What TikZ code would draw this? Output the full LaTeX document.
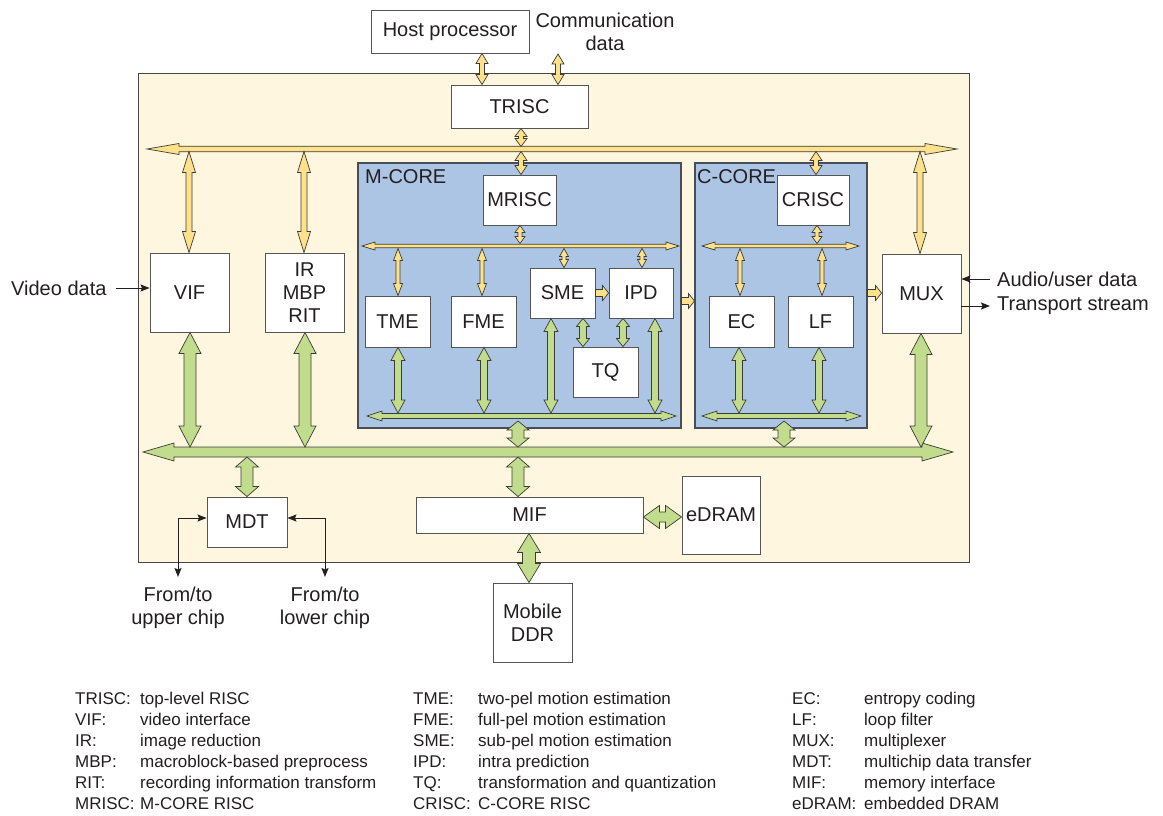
\documentclass[tikz,border=0pt]{standalone}
\usepackage{fontspec}
\setmainfont{Liberation Sans}
\usetikzlibrary{calc,arrows.meta}
\definecolor{cream}{RGB}{254,246,222}
\definecolor{coreblue}{RGB}{173,197,229}
\definecolor{yel}{RGB}{255,225,140}
\definecolor{grn}{RGB}{192,220,140}
\definecolor{txt}{RGB}{35,31,32}
\definecolor{boxc}{RGB}{85,85,85}
\definecolor{corec}{RGB}{70,78,92}
\definecolor{arrc}{RGB}{60,60,55}
\definecolor{chipc}{RGB}{70,70,70}
% double-headed fat arrow: [style]{A}{B}{shaft half}{head half}{head length}
\newcommand\biarrow[6][]{%
 \draw[#1] (#2) -- ($(#2)!#6!(#3)!#5!90:(#3)$) -- ($(#2)!#6!(#3)!#4!90:(#3)$)
  -- ($(#3)!#6!(#2)!#4!-90:(#2)$) -- ($(#3)!#6!(#2)!#5!-90:(#2)$) -- (#3)
  -- ($(#3)!#6!(#2)!#5!90:(#2)$) -- ($(#3)!#6!(#2)!#4!90:(#2)$)
  -- ($(#2)!#6!(#3)!#4!-90:(#3)$) -- ($(#2)!#6!(#3)!#5!-90:(#3)$) -- cycle;}
% single-headed fat arrow from A to B
\newcommand\uniarrow[6][]{%
 \draw[#1] ($(#2)!#4!90:(#3)$) -- ($(#3)!#6!(#2)!#4!-90:(#2)$) -- ($(#3)!#6!(#2)!#5!-90:(#2)$)
  -- (#3) -- ($(#3)!#6!(#2)!#5!90:(#2)$) -- ($(#3)!#6!(#2)!#4!90:(#2)$)
  -- ($(#2)!#4!-90:(#3)$) -- cycle;}
% vertical link at x between two anchors
\newcommand\vlink[7][]{%
 \coordinate (vlX) at (#4,0);
 \coordinate (vlA) at (vlX |- #2);
 \coordinate (vlB) at (vlX |- #3);
 \biarrow[#1]{vlA}{vlB}{#5}{#6}{#7}}
\begin{document}
\begin{tikzpicture}[x=1pt,y=-1pt,
 >={Stealth[length=9pt,width=7pt,inset=1.5pt]},
 box/.style={draw=boxc, fill=white, line width=0.9pt, inner sep=0pt, align=center, text=txt, font=\fontsize{20}{23}\selectfont},
 lbl/.style={inner sep=0pt, text=txt, font=\fontsize{20}{23}\selectfont},
 leg/.style={inner sep=0pt, anchor=base west, text=txt, font=\fontsize{17}{21}\selectfont},
 core/.style={draw=corec, fill=coreblue, line width=1.1pt, inner sep=0pt},
 ya/.style={draw=arrc, fill=yel, line width=0.7pt},
 ga/.style={draw=arrc, fill=grn, line width=0.7pt},
 sig/.style={draw=txt, line width=1pt}]
\fill[white] (0,0) rectangle (1163,816);
\useasboundingbox (0,0) rectangle (1163,816);

% containers
\node[draw=chipc, fill=cream, line width=1pt, minimum width=831pt, minimum height=488pt, inner sep=0pt] (chip) at (553.5,318) {};
\node[core, minimum width=323pt, minimum height=265pt] (mcore) at (519.5,295.5) {};
\node[core, minimum width=172pt, minimum height=265pt] (ccore) at (781,295.5) {};
\node[lbl, anchor=west] (mlabel) at (365,176.5) {M-CORE};
\node[lbl, anchor=west] (clabel) at (697,176.5) {C-CORE};

% blocks
\node[box, minimum width=158pt, minimum height=43pt] (host) at (450,31.5) {Host processor};
\node[lbl, align=center] (comm) at (605,31.5) {Communication\\data};
\node[box, minimum width=137pt, minimum height=43pt] (trisc) at (519.5,106.5) {TRISC};
\node[box, minimum width=73pt, minimum height=50pt] (mrisc) at (519.5,200) {MRISC};
\node[box, minimum width=72pt, minimum height=50pt] (crisc) at (813,200) {CRISC};
\node[box, minimum width=65pt, minimum height=51pt] (tme) at (397.5,321.5) {TME};
\node[box, minimum width=65pt, minimum height=51pt] (fme) at (483.5,321.5) {FME};
\node[box, minimum width=65pt, minimum height=50pt] (sme) at (562.5,293) {SME};
\node[box, minimum width=64pt, minimum height=50pt] (ipd) at (641,293) {IPD};
\node[box, minimum width=65pt, minimum height=50pt] (tq) at (605.5,372) {TQ};
\node[box, minimum width=65pt, minimum height=51pt] (ec) at (741.5,321.5) {EC};
\node[box, minimum width=65pt, minimum height=51pt] (lf) at (820.5,321.5) {LF};
\node[box, minimum width=79pt, minimum height=79pt] (mux) at (921.5,293.5) {MUX};
\node[box, minimum width=79pt, minimum height=79pt] (vif) at (189.5,292.5) {VIF};
\node[box, minimum width=79pt, minimum height=79pt] (ir) at (304.5,292.5) {IR\\MBP\\RIT};
\node[box, minimum width=80pt, minimum height=50pt] (mdt) at (247,522) {MDT};
\node[box, minimum width=227pt, minimum height=36pt] (mif) at (529.5,515) {MIF};
\node[box, minimum width=78pt, minimum height=78pt] (edram) at (721,515) {eDRAM};
\node[box, minimum width=79pt, minimum height=79pt] (ddr) at (532.5,622.5) {Mobile\\DDR};

% external labels
\node[lbl, anchor=west] (vd) at (11,288) {Video data};
\node[lbl, anchor=west] (aud) at (997,279) {Audio/user data};
\node[lbl, anchor=west] (ts) at (997,306) {Transport stream};
\node[lbl, align=center, anchor=north] (up) at (178,587) {From/to\\upper chip};
\node[lbl, align=center, anchor=north] (low) at (325,587) {From/to\\lower chip};

% bus coordinates
\coordinate (tbL) at (147,149); \coordinate (tbR) at (957,149);
\coordinate (tbT) at (0,146.5); \coordinate (tbB) at (0,151.5);
\coordinate (mbL) at (362,246); \coordinate (mbR) at (679,246);
\coordinate (cbL) at (702,246); \coordinate (cbR) at (859,246);
\coordinate (mbT) at (0,243.5); \coordinate (mbB) at (0,248.5);
\coordinate (mgL) at (367,416); \coordinate (mgR) at (676,416);
\coordinate (cgL) at (702,416); \coordinate (cgR) at (861,416);
\coordinate (mgT) at (0,413); \coordinate (mgX) at (0,421);
\coordinate (gbL) at (143,452); \coordinate (gbR) at (953,452);
\coordinate (gbT) at (0,447); \coordinate (gbB) at (0,457);
\coordinate (commEnd) at (558,54);

% buses
\biarrow[ya]{tbL}{tbR}{2.8pt}{5.5pt}{32pt}
\biarrow[ya]{mbL}{mbR}{1.8pt}{4pt}{13pt}
\biarrow[ya]{cbL}{cbR}{1.8pt}{4pt}{13pt}
\biarrow[ga]{mgL}{mgR}{2.5pt}{5pt}{15pt}
\biarrow[ga]{cgL}{cgR}{2.5pt}{5pt}{15pt}
\biarrow[ga]{gbL}{gbR}{5pt}{9pt}{31pt}

% small yellow links
\vlink[ya]{host.south}{trisc.north}{482}{2.5pt}{6pt}{10pt}
\vlink[ya]{commEnd}{trisc.north}{558}{2.5pt}{6pt}{10pt}
\vlink[ya]{trisc.south}{tbT}{521}{2.5pt}{6pt}{8pt}
\vlink[ya]{tbB}{mrisc.north}{521}{2.5pt}{6pt}{9pt}
\vlink[ya]{tbB}{crisc.north}{816}{2.5pt}{6pt}{9pt}
% thick yellow links
\vlink[ya]{tbB}{vif.north}{189}{3pt}{6.5pt}{21pt}
\vlink[ya]{tbB}{ir.north}{304}{3pt}{6.5pt}{21pt}
\vlink[ya]{tbB}{mux.north}{920}{3pt}{6.5pt}{21pt}
% core yellow links
\vlink[ya]{mrisc.south}{mbT}{520}{2pt}{5pt}{7pt}
\vlink[ya]{mbB}{tme.north}{398}{2pt}{4.5pt}{12pt}
\vlink[ya]{mbB}{fme.north}{482}{2pt}{4.5pt}{12pt}
\vlink[ya]{mbB}{sme.north}{564}{2pt}{4.5pt}{8pt}
\vlink[ya]{mbB}{ipd.north}{642}{2pt}{4.5pt}{8pt}
\vlink[ya]{crisc.south}{mbT}{817}{2pt}{5pt}{7pt}
\vlink[ya]{mbB}{ec.north}{740}{2pt}{4.5pt}{12pt}
\vlink[ya]{mbB}{lf.north}{822}{2pt}{4.5pt}{12pt}
% single yellow arrows
\uniarrow[ya]{sme.east}{ipd.west}{3.5pt}{7.5pt}{6pt}
\coordinate (q1) at ([yshift=-5.5pt]mcore.east);
\coordinate (q2) at (q1 -| ccore.west);
\uniarrow[ya]{q1}{q2}{3.5pt}{7.5pt}{6pt}
\coordinate (q3) at ([yshift=2.5pt]ccore.east);
\coordinate (q4) at (q3 -| mux.west);
\uniarrow[ya]{q3}{q4}{3.5pt}{7.5pt}{6pt}

% core green links
\vlink[ga]{tme.south}{mgT}{398}{3.5pt}{7pt}{13pt}
\vlink[ga]{fme.south}{mgT}{484}{3.5pt}{7pt}{13pt}
\vlink[ga]{sme.south}{mgT}{551}{3.5pt}{7pt}{13pt}
\vlink[ga]{ipd.south}{mgT}{655}{3.5pt}{7pt}{13pt}
\vlink[ga]{sme.south}{tq.north}{583}{3.5pt}{6.5pt}{8pt}
\vlink[ga]{ipd.south}{tq.north}{623}{3.5pt}{6.5pt}{8pt}
\vlink[ga]{ec.south}{mgT}{739}{3.5pt}{7pt}{13pt}
\vlink[ga]{lf.south}{mgT}{819}{3.5pt}{7pt}{13pt}
% core to main bus
\vlink[ga]{mgX}{gbT}{518}{6pt}{11pt}{9pt}
\vlink[ga]{mgX}{gbT}{784}{6pt}{11pt}{9pt}
% big green links
\vlink[ga]{vif.south}{gbT}{190}{6pt}{11pt}{21pt}
\vlink[ga]{ir.south}{gbT}{305}{6pt}{11pt}{21pt}
\vlink[ga]{mux.south}{gbT}{921}{6pt}{11pt}{21pt}
\vlink[ga]{gbB}{mdt.north}{247}{6pt}{11.5pt}{10pt}
\vlink[ga]{gbB}{mif.north}{518}{6pt}{11.5pt}{10pt}
\vlink[ga]{mif.south}{ddr.north}{529}{6.5pt}{11.5pt}{19pt}
\coordinate (m1) at ([yshift=-2pt]mif.east);
\coordinate (m2) at (m1 -| edram.west);
\biarrow[ga]{m1}{m2}{5pt}{11.5pt}{16pt}

% signal arrows
\draw[sig,->] ([xshift=9pt]vd.east) -- (vd.east -| vif.west);
\draw[sig,->] ([xshift=-7pt]aud.west) -- (aud.west -| mux.east);
\draw[sig,->] (ts.west -| mux.east) -- ([xshift=-7pt]ts.west);
\draw[sig,<->] ([yshift=10pt]up.north) |- ([yshift=4pt]mdt.west);
\draw[sig,<->] ([yshift=10pt]low.north) |- ([yshift=4pt]mdt.east);

% legend
\foreach \a/\b [count=\i] in {TRISC:/top-level RISC, VIF:/video interface, IR:/image reduction, MBP:/macroblock-based preprocess, RIT:/recording information transform, MRISC:/M-CORE RISC}{
 \node[leg] (la\i) at (75,{683+21*\i}) {\a};
 \node[leg] (lb\i) at (140,{683+21*\i}) {\b};}
\foreach \a/\b [count=\i] in {TME:/two-pel motion estimation, FME:/full-pel motion estimation, SME:/sub-pel motion estimation, IPD:/intra prediction, TQ:/transformation and quantization, CRISC:/C-CORE RISC}{
 \node[leg] (ma\i) at (413,{683+21*\i}) {\a};
 \node[leg] (mb\i) at (478,{683+21*\i}) {\b};}
\foreach \a/\b [count=\i] in {EC:/entropy coding, LF:/loop filter, MUX:/multiplexer, MDT:/multichip data transfer, MIF:/memory interface, eDRAM:/embedded DRAM}{
 \node[leg] (na\i) at (792,{683+21*\i}) {\a};
 \node[leg] (nb\i) at (864,{683+21*\i}) {\b};}
\end{tikzpicture}
\end{document}
